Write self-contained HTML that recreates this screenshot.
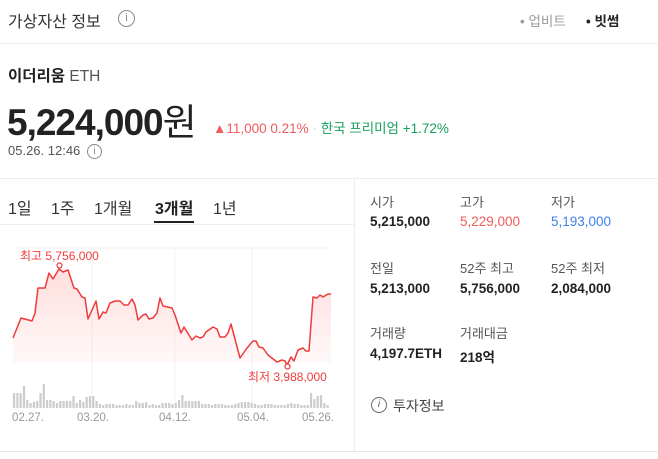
<!DOCTYPE html>
<html><head><meta charset="utf-8"><style>
body{margin:0;width:658px;height:459px;background:#fff;font-family:"Liberation Sans","Noto Sans CJK KR",sans-serif;position:relative;overflow:hidden;color:#222}
.a{position:absolute;white-space:nowrap}
.lbl{font-size:13px;color:#555}
.val{font-size:13.5px;font-weight:bold;color:#222}
</style></head><body>
<div class="a" style="left:8px;top:8px;font-size:16px;color:#333">가상자산 정보</div>
<div class="a" style="left:118px;top:10px;width:15px;height:15px;border:1px solid #888;border-radius:50%;font-size:11px;color:#888;text-align:center;line-height:15px">i</div>
<div class="a" style="left:520px;top:10px;font-size:13.5px;color:#999">• 업비트</div>
<div class="a" style="left:586px;top:10px;font-size:13.5px;color:#222;font-weight:bold">• 빗썸</div>
<div class="a" style="left:0;top:43px;width:658px;height:1px;background:#eee"></div>
<div class="a" style="left:8px;top:64px;font-size:15.5px;color:#222"><b>이더리움</b> <span style="color:#555">ETH</span></div>
<div class="a" style="left:7px;top:92px;font-size:37px;font-weight:bold;color:#222;letter-spacing:-1px">5,224,000<span style="font-weight:normal">원</span></div>
<div class="a" style="left:213px;top:117px;font-size:13.5px;color:#f15b5b">▲11,000 0.21% <span style="color:#ccc">·</span> <span style="color:#16a05d">한국 프리미엄 +1.72%</span></div>
<div class="a" style="left:8px;top:143px;font-size:13px;color:#555">05.26. 12:46</div>
<div class="a" style="left:87px;top:144px;width:13px;height:13px;border:1px solid #888;border-radius:50%;font-size:10px;color:#888;text-align:center;line-height:13px">i</div>
<div class="a" style="left:0;top:178px;width:658px;height:1px;background:#eee"></div>
<div class="a" style="left:354px;top:178px;width:1px;height:273px;background:#eee"></div>
<div class="a" style="left:0;top:451px;width:658px;height:1px;background:#e5e5e5"></div>
<div class="a" style="left:8px;top:195px;font-size:16px;color:#333;word-spacing:0">1일</div>
<div class="a" style="left:51px;top:195px;font-size:16px;color:#333">1주</div>
<div class="a" style="left:94px;top:195px;font-size:16px;color:#333">1개월</div>
<div class="a" style="left:155px;top:195px;font-size:16px;color:#222;font-weight:bold">3개월</div>
<div class="a" style="left:122px;top:221px;width:32px"></div>
<div class="a" style="left:154px;top:221px;width:40px;height:2px;background:#222"></div>
<div class="a" style="left:213px;top:195px;font-size:16px;color:#333">1년</div>
<div class="a" style="left:0;top:224px;width:354px;height:1px;background:#eee"></div>
<svg class="a" style="left:0;top:0" width="354" height="459">
<defs><linearGradient id="g" x1="0" y1="0" x2="0" y2="1"><stop offset="0" stop-color="#f44" stop-opacity="0.18"/><stop offset="1" stop-color="#f44" stop-opacity="0.03"/></linearGradient></defs>
<line x1="13" y1="248" x2="331" y2="248" stroke="#f3f3f3"/>
<line x1="92" y1="248" x2="92" y2="408" stroke="#f3f3f3"/>
<line x1="175" y1="248" x2="175" y2="408" stroke="#f3f3f3"/>
<line x1="252" y1="248" x2="252" y2="408" stroke="#f3f3f3"/>
<polygon fill="url(#g)" points="13,338 21,318 32,321 35,313 38,288 45,288 49,273 53,279 59,269 63,272 68,270 74,288 77,289 82,297 85,298 88,319 96,301 99,319 103,312 106,313 110,303 115,301 120,301 124,305 128,305 132,299 135,305 138,320 143,315 146,314 149,319 153,318 157,313 160,298 163,306 172,308 175,315 181,333 184,327 192,340 196,336 200,338 203,337 206,332 213,327 217,329 220,337 225,337 228,333 231,324 240,358 247,348 253,341 256,341 259,347 263,348 268,355 277,362 282,360 285,361 287,365 291,357 294,361 298,350 303,348 306,351 309,351 313,297 317,298 320,295 323,297 328,294 331,294 331,363 13,363"/>
<polyline fill="none" stroke="#ee3b3b" stroke-width="1.5" stroke-linejoin="round" points="13,338 21,318 32,321 35,313 38,288 45,288 49,273 53,279 59,269 63,272 68,270 74,288 77,289 82,297 85,298 88,319 96,301 99,319 103,312 106,313 110,303 115,301 120,301 124,305 128,305 132,299 135,305 138,320 143,315 146,314 149,319 153,318 157,313 160,298 163,306 172,308 175,315 181,333 184,327 192,340 196,336 200,338 203,337 206,332 213,327 217,329 220,337 225,337 228,333 231,324 240,358 247,348 253,341 256,341 259,347 263,348 268,355 277,362 282,360 285,361 287,365 291,357 294,361 298,350 303,348 306,351 309,351 313,297 317,298 320,295 323,297 328,294 331,294"/>
<circle cx="59.5" cy="265.5" r="2.5" fill="#fff" stroke="#ee3b3b" stroke-width="1.2"/>
<circle cx="287.5" cy="366.5" r="2.5" fill="#fff" stroke="#ee3b3b" stroke-width="1.2"/>
<text x="20" y="260" font-size="12" fill="#ee3b3b" font-family="Liberation Sans, Noto Sans CJK KR, sans-serif">최고 5,756,000</text>
<text x="248" y="381" font-size="12" fill="#ee3b3b" font-family="Liberation Sans, Noto Sans CJK KR, sans-serif">최저 3,988,000</text>
<g fill="#ccc" id="bars"></g>
<g font-size="11.5" fill="#999" font-family="Liberation Sans, sans-serif">
<text x="12" y="421">02.27.</text><text x="77" y="421">03.20.</text><text x="159" y="421">04.12.</text><text x="237" y="421">05.04.</text><text x="302" y="421">05.26.</text></g>
</svg>
<script>
var h=[15,15,15,22,8,5,6,7,15,24,8,8,7,5,7,7,7,7,12,5,8,6,11,12,12,7,4,3,4,4,4,3,3,3,4,3,3,7,5,5,6,3,4,3,3,5,5,5,4,5,8,13,7,7,7,7,7,4,4,4,3,4,4,4,3,3,3,4,5,6,6,6,5,4,3,3,4,4,4,3,3,3,3,4,5,4,4,3,3,3,15,9,12,13,5,3];
var g=document.getElementById('bars'),s='';
for(var i=0;i<h.length;i++){var x=13+i*3.3;s+='<rect x="'+x.toFixed(1)+'" y="'+(408-h[i])+'" width="2.2" height="'+h[i]+'"/>';}
g.innerHTML=s;
</script>
<div class="a lbl" style="left:370px;top:192px">시가</div>
<div class="a lbl" style="left:460px;top:192px">고가</div>
<div class="a lbl" style="left:551px;top:192px">저가</div>
<div class="a val" style="left:370px;top:214px">5,215,000</div>
<div class="a val" style="left:460px;top:214px;color:#f15b5b;font-weight:normal">5,229,000</div>
<div class="a val" style="left:551px;top:214px;color:#3b82f0;font-weight:normal">5,193,000</div>
<div class="a lbl" style="left:370px;top:258px">전일</div>
<div class="a lbl" style="left:460px;top:258px">52주 최고</div>
<div class="a lbl" style="left:551px;top:258px">52주 최저</div>
<div class="a val" style="left:370px;top:281px">5,213,000</div>
<div class="a val" style="left:460px;top:281px">5,756,000</div>
<div class="a val" style="left:551px;top:281px">2,084,000</div>
<div class="a lbl" style="left:370px;top:323px">거래량</div>
<div class="a lbl" style="left:460px;top:323px">거래대금</div>
<div class="a val" style="left:370px;top:346px">4,197.7ETH</div>
<div class="a val" style="left:460px;top:346px">218억</div>
<div class="a" style="left:371px;top:397px;width:14px;height:14px;border:1px solid #666;border-radius:50%;font-size:10px;font-style:italic;color:#555;text-align:center;line-height:14px">i</div>
<div class="a" style="left:393px;top:396px;font-size:14px;color:#444">투자정보</div>
</body></html>
